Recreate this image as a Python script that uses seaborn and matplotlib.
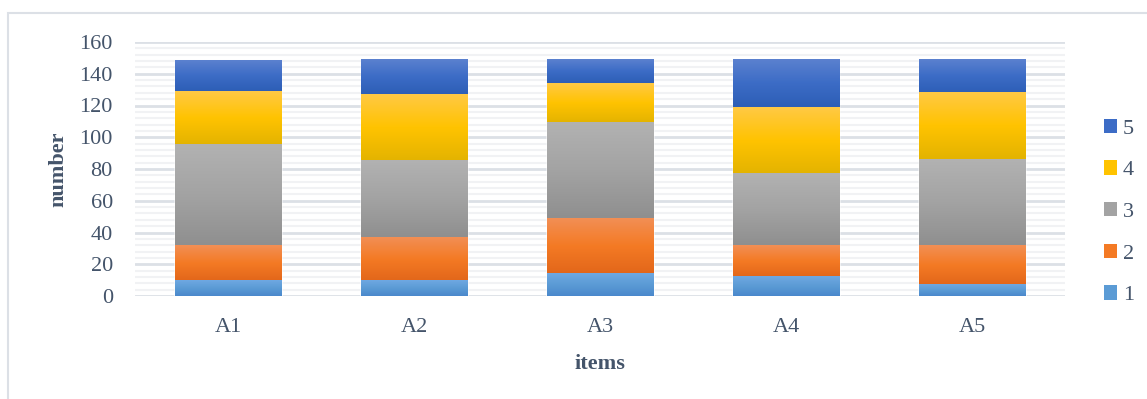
import numpy as np
import matplotlib
matplotlib.use("Agg")
import matplotlib.pyplot as plt
import seaborn as sns
from matplotlib.colors import LinearSegmentedColormap
from matplotlib.patches import Rectangle, Patch
from matplotlib.ticker import MultipleLocator

# Data: five items, each split into five stacked components
items = ["A1", "A2", "A3", "A4", "A5"]
series_names = ["1", "2", "3", "4", "5"]
s1 = [9.5, 9.5, 14, 12, 7]
s2 = [22.5, 27.5, 35, 20, 25]
s3 = [63, 48, 60, 45, 54]
s4 = [34, 42, 25, 42, 42]
s5 = [19, 22, 15, 30, 21]
y_ticks = [0, 20, 40, 60, 80, 100, 120, 140, 160]

series = [s1, s2, s3, s4, s5]

# Gradient fills (top, middle, bottom) for each component
gradients = {
    "1": ("#6FA8E2", "#5B9BD5", "#4A88CC"),
    "2": ("#F28F55", "#F47A24", "#E2661A"),
    "3": ("#B2B2B2", "#A3A3A3", "#8F8F8F"),
    "4": ("#FFC945", "#FFC300", "#E3B300"),
    "5": ("#5B81CF", "#3C6CC6", "#2D5EB6"),
}

text_color = "#44546A"
W, H = 1147, 399

sns.set_theme(style="white")
plt.rcParams["font.family"] = ["Liberation Serif", "DejaVu Serif"]

fig = plt.figure(figsize=(W / 100, H / 100), dpi=100)
ax = fig.add_axes([135 / W, (H - 296) / H, 930 / W, 254 / H])

cum = np.cumsum(np.array(series, dtype=float), axis=0)
bar_width = 0.575

# Overlay cumulative bars (largest first) and paint each segment with a gradient
for k in range(len(series) - 1, -1, -1):
    name = series_names[k]
    top_c, mid_c, bot_c = gradients[name]
    n_before = len(ax.patches)
    sns.barplot(x=items, y=cum[k], color=mid_c, width=bar_width,
                saturation=1, ax=ax, zorder=2)
    new_patches = ax.patches[n_before:]
    cmap = LinearSegmentedColormap.from_list(f"g{name}", [top_c, mid_c, bot_c])
    grad = cmap(np.linspace(0, 1, 256))[:, None, :3]
    for i, p in enumerate(new_patches):
        lo = cum[k - 1][i] if k > 0 else 0.0
        hi = cum[k][i]
        x0 = p.get_x()
        w = p.get_width()
        ax.imshow(grad, extent=(x0, x0 + w, lo, hi), aspect="auto",
                  origin="upper", zorder=3, interpolation="bilinear")

ax.set_xlim(-0.5, len(items) - 0.5)
ax.set_ylim(0, 160)
ax.set_yticks(y_ticks)
ax.yaxis.set_minor_locator(MultipleLocator(4))

ax.set_axisbelow(True)
ax.grid(False)
ax.grid(which="minor", axis="y", color="#F1F2F4", lw=1.5, zorder=0)
ax.grid(which="major", axis="y", color="#DCE0E6", lw=2.0, zorder=1)
for s in ax.spines.values():
    s.set_visible(False)

ax.tick_params(axis="both", which="both", length=0, labelsize=16,
               labelcolor=text_color)
ax.tick_params(axis="y", pad=16)
ax.tick_params(axis="x", pad=16)

ax.set_xlabel("items", fontsize=16, fontweight="bold", color=text_color,
              labelpad=12)
ax.set_ylabel("number", fontsize=16, fontweight="bold", color=text_color,
              labelpad=8)

# Legend with components listed from top of stack to bottom
handles = [Patch(facecolor=gradients[n][1], edgecolor="none") for n in series_names[::-1]]
leg = fig.legend(handles, series_names[::-1], loc="center left",
                 bbox_to_anchor=(1104 / W, 1 - 212 / H), frameon=False,
                 fontsize=16, handlelength=0.6, handleheight=0.6,
                 handletextpad=0.25, labelspacing=0.98, borderaxespad=0,
                 borderpad=0)
for t in leg.get_texts():
    t.set_color(text_color)

# Chart-area border
fig.patches.append(Rectangle((8 / W, -0.2), 1.2, 1.2 - 13 / H,
                             transform=fig.transFigure, fill=False,
                             ec="#DCE0E6", lw=1.5, zorder=-1))

fig.savefig("out.png", dpi=100)
